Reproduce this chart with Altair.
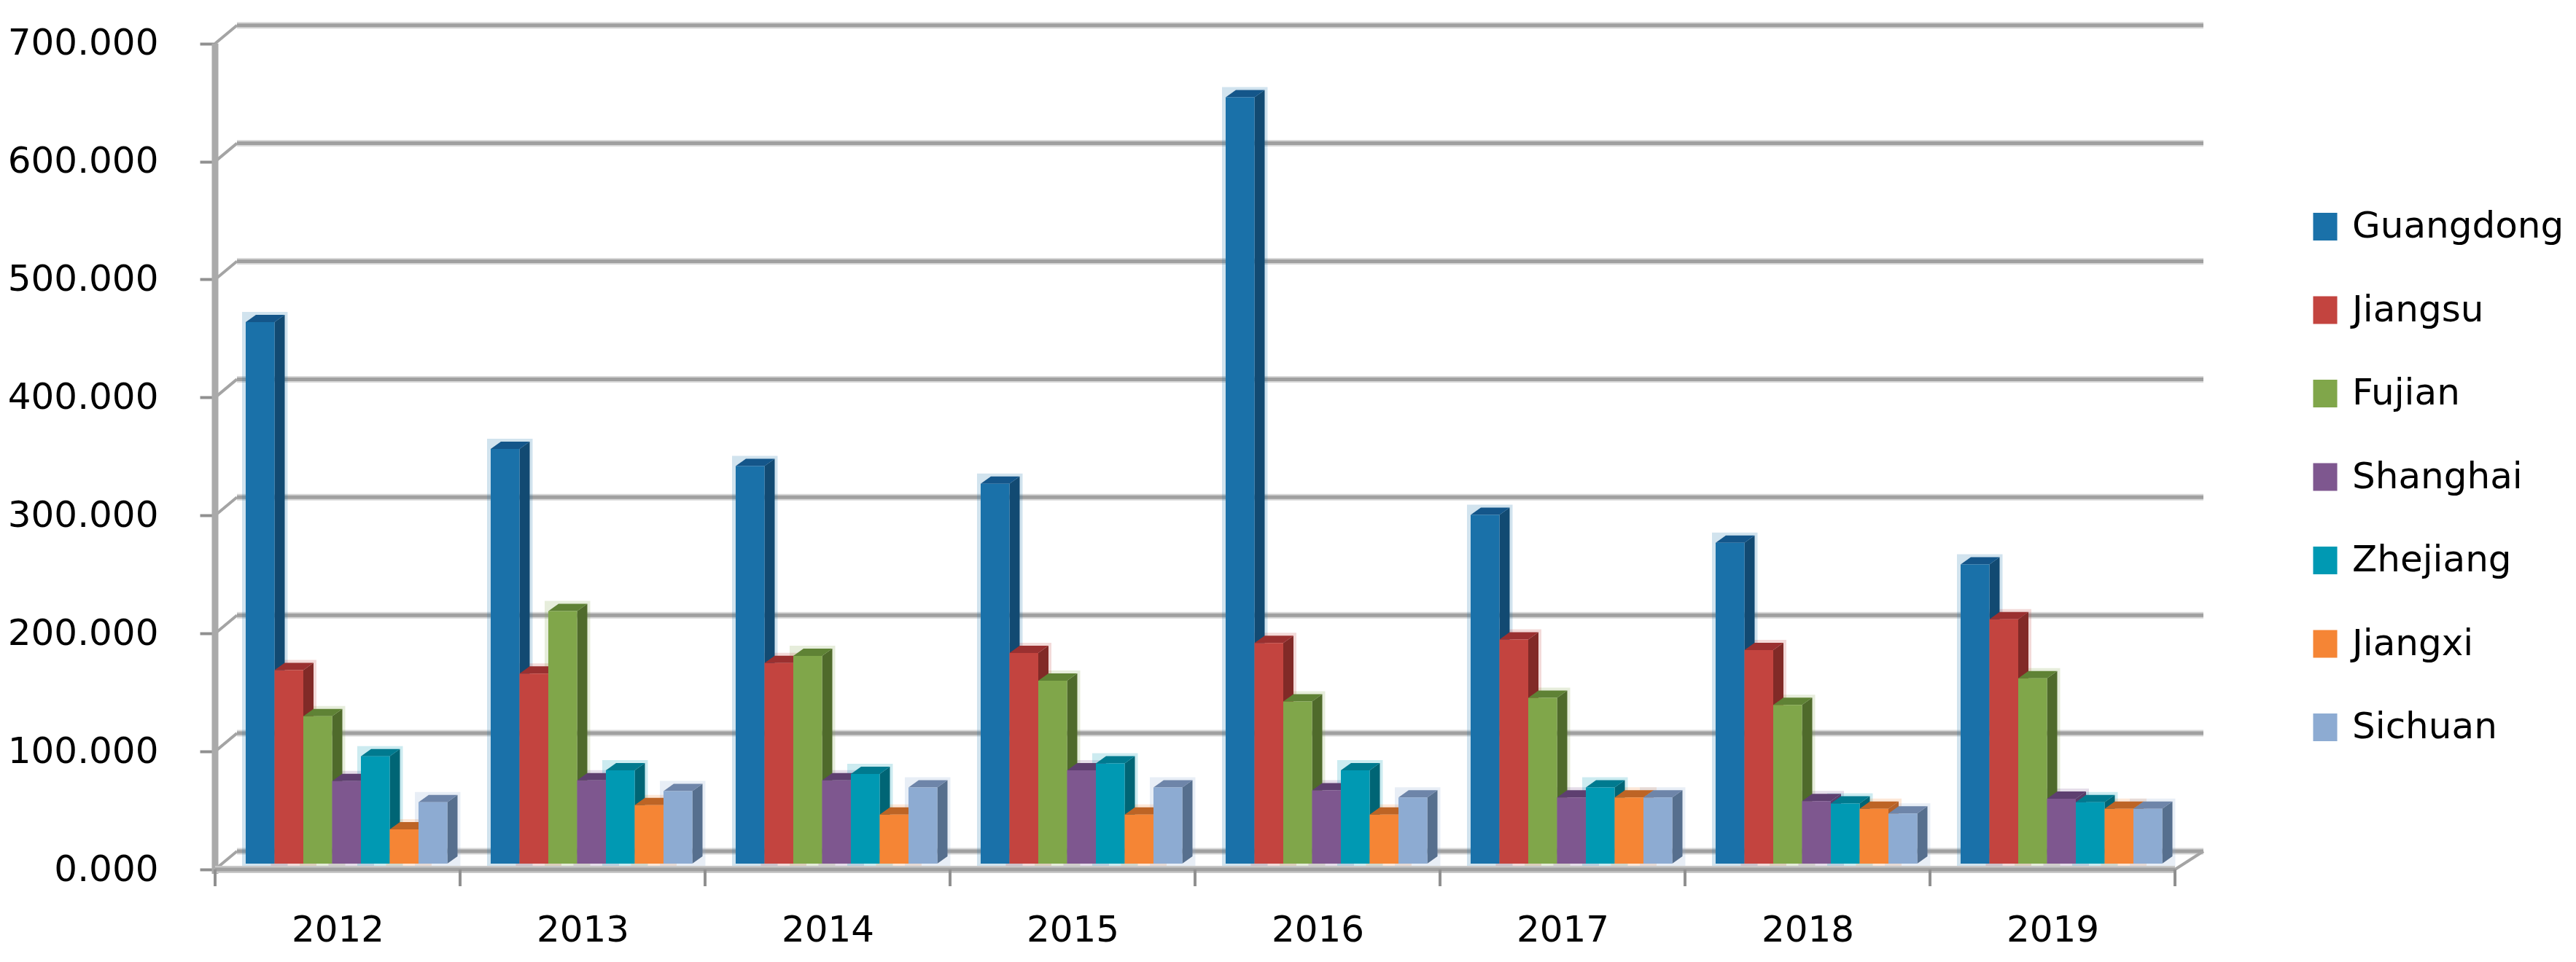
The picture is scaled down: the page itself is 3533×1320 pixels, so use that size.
import altair as alt
import pandas as pd

years = [2012, 2013, 2014, 2015, 2016, 2017, 2018, 2019]
series = ["Guangdong", "Jiangsu", "Fujian", "Shanghai", "Zhejiang", "Jiangxi", "Sichuan"]
guangdong = [459, 351.5, 337, 322, 649.5, 295.5, 272, 253.5]
jiangsu = [164, 161, 170, 178.5, 187, 190, 181, 207]
fujian = [125, 214, 176, 155, 137.5, 140.5, 134.5, 157]
shanghai = [70, 70.5, 70.5, 79, 62, 56, 53, 55]
zhejiang = [91, 79, 76, 85, 79, 64.5, 51, 52]
jiangxi = [29, 49.5, 41.5, 41.5, 41.5, 56, 46.5, 46.5]
sichuan = [52, 61.5, 64.5, 64.5, 56, 56, 42.5, 46.5]
values = [guangdong, jiangsu, fujian, shanghai, zhejiang, jiangxi, sichuan]
front_colors = ["#1a71a9", "#c3443f", "#80a64a", "#7e578f", "#0099b3", "#f58535", "#8dabd2"]
side_colors = ["#124a72", "#812a27", "#4f6a2b", "#5a3c69", "#006575", "#b3612a", "#566f8e"]
top_colors = ["#14568a", "#9a3030", "#5f8235", "#5e3f70", "#007a8f", "#bd6425", "#6e85a9"]
y_ticks = [0, 100, 200, 300, 400, 500, 600, 700]

W, H = 2730, 1161
BAND = 336.0
UNIT = 1.619  # px per value unit
X_MAX, Y_MAX = W / BAND, H / UNIT
px_x = lambda p: p / BAND
px_y = lambda p: p / UNIT

START, BW, DX, DY, BASE = px_x(42), px_x(39.5), px_x(14), px_y(10), px_y(8)
WALL_X, WALL_Y, BACK_END = px_x(30), px_y(25), px_x(3022 - 295)
HX_L, HX_R, HY = px_x(5), px_x(4), px_y(4)

fronts, sides, tops, halos = [], [], [], []
for s, (name, vals) in enumerate(zip(series, values)):
    for g, v in enumerate(vals):
        xl = g + START + s * BW
        xr = xl + BW
        yt = v + BASE
        fronts.append(dict(series=name, s=s, xl=xl, xr=xr, yt=yt, yb=BASE))
        halos.append(dict(series=name, s=s, xl=xl - HX_L, xr=xr + DX + HX_R, yt=yt + DY + HY, yb=BASE - HY))
        bar = f"{g}-{s}"
        sides += [dict(s=s, bar=bar, x=xr, y=yt, y2=BASE), dict(s=s, bar=bar, x=xr + DX, y=yt + DY, y2=BASE + DY)]
        tops += [dict(s=s, bar=bar, x=xl, y=yt, y2=yt), dict(s=s, bar=bar, x=xl + DX, y=yt + DY, y2=yt),
                 dict(s=s, bar=bar, x=xr, y=yt + DY, y2=yt), dict(s=s, bar=bar, x=xr + DX, y=yt + DY, y2=yt + DY)]
fronts, sides, tops, halos = map(pd.DataFrame, (fronts, sides, tops, halos))

grid = pd.DataFrame(dict(v=y_ticks))
grid["x0"] = WALL_X
grid["x1"] = BACK_END
grid["xf"] = 0.0
grid["yb"] = grid.v + WALL_Y
ticks_x = pd.DataFrame(dict(x=list(range(len(years) + 1)), y=[0] * (len(years) + 1)))
floor = pd.DataFrame(dict(x=[0.0], x2=[float(len(years))], y=[0.0]))
right_edge = pd.DataFrame(dict(x=[float(len(years))], x2=[BACK_END], y=[0.0], y2=[WALL_Y]))
y_line = pd.DataFrame(dict(x=[0.0], y=[-px_y(6)], y2=[700.0]))

label_pos = [i + 0.5 for i in range(len(years))]
year_expr = "'' + " + str(years) + "[floor(datum.value)]"
x_axis = alt.Axis(values=label_pos, labelExpr=year_expr, title=None, domain=False, grid=False,
                  tickSize=0, labelFont="DejaVu Sans", labelFontSize=50, labelColor="#000000",
                  labelPadding=58, labelAngle=0, labelFlush=False, labelOverlap=False)
y_axis = alt.Axis(values=y_ticks, format=".3f", title=None, domain=False, grid=False,
                  tickSize=21, tickWidth=4, tickColor="#909090", labelFont="DejaVu Sans", labelFontSize=50,
                  labelColor="#000000", labelPadding=57, labelLimit=500)

x_scale = alt.Scale(domain=[0, X_MAX], range=[0, W], nice=False, zero=False)
y_scale = alt.Scale(domain=[0, Y_MAX], range=[H, 0], nice=False, zero=False)
X = lambda f: alt.X(f, type="quantitative", scale=x_scale, axis=x_axis)
Y = lambda f: alt.Y(f, type="quantitative", scale=y_scale, axis=y_axis, stack=None)

layers = [
    alt.Chart(grid).mark_rule(color="#d8d8d8", strokeWidth=9).encode(x=X("x0"), x2="x1", y=Y("yb")),
    alt.Chart(grid).mark_rule(color="#a0a0a0", strokeWidth=5).encode(x=X("x0"), x2="x1", y=Y("yb")),
    alt.Chart(grid).mark_rule(color="#a4a4a4", strokeWidth=4).encode(x=X("xf"), x2="x0", y=Y("v"), y2="yb"),
    alt.Chart(right_edge).mark_rule(color="#a4a4a4", strokeWidth=4).encode(x=X("x"), x2="x2", y=Y("y"), y2="y2"),
]
for s, name in enumerate(series):
    layers.append(alt.Chart(halos[halos.s == s]).mark_rect(opacity=0.2, color=front_colors[s]).encode(
        x=X("xl"), x2="xr", y=Y("yt"), y2="yb"))
layers += [
    alt.Chart(y_line).mark_rule(color="#aaaaaa", strokeWidth=9).encode(x=X("x"), y=Y("y"), y2="y2"),
    alt.Chart(floor).mark_rule(color="#c8c8c8", strokeWidth=10).encode(x=X("x"), x2="x2", y=Y("y")),
    alt.Chart(floor).mark_rule(color="#a0a0a0", strokeWidth=5).encode(x=X("x"), x2="x2", y=Y("y")),
    alt.Chart(ticks_x).mark_rule(color="#909090", strokeWidth=4).encode(x=X("x"), y=Y("y"), y2=alt.value(H + 23)),
]

legend = alt.Legend(title=None, orient="none", legendX=2869, legendY=254, padding=0,
                    symbolType="M-0.87,-1H0.87V1H-0.87Z", symbolSize=1444, symbolStrokeWidth=0,
                    labelFont="DejaVu Sans", labelFontSize=50, labelColor="#000000", labelOffset=12,
                    rowPadding=64.5, labelLimit=500, values=series)
color = alt.Color("series:N", scale=alt.Scale(domain=series, range=front_colors), legend=legend)

for s, name in enumerate(series):
    layers.append(alt.Chart(sides[sides.s == s]).mark_area(color=side_colors[s], orient="vertical").encode(
        x=X("x"), y=Y("y"), y2="y2", detail="bar:N"))
    layers.append(alt.Chart(tops[tops.s == s]).mark_area(color=top_colors[s], orient="vertical").encode(
        x=X("x"), y=Y("y"), y2="y2", detail="bar:N"))
    layers.append(alt.Chart(fronts[fronts.s == s]).mark_rect(opacity=1).encode(
        x=X("xl"), x2="xr", y=Y("yt"), y2="yb", color=color))

chart = alt.layer(*layers).properties(
    width=W, height=H,
    autosize=alt.AutoSizeParams(type="none"),
    padding={"left": 287, "top": 24, "right": 500, "bottom": 111},
    background="#ffffff",
).configure_view(stroke=None)

chart.save("out.html", embed_options={"renderer": "svg", "actions": False})
